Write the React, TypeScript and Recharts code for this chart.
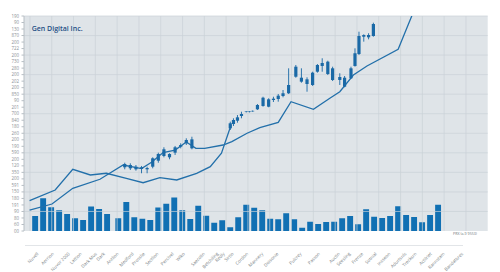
import React from 'react';
import { ComposedChart, Bar, Line, Scatter, ErrorBar, XAxis, YAxis, CartesianGrid, ReferenceLine } from 'recharts';

const W = 500;
const H = 272;
const T_MAX = 580;

// y-axis tick labels, bottom to top
const Y_LABELS = ['00', '60', '80', '90', '191', '180', '150', '591', '200', '350', '120', '200', '590', '190', '200', '260', '180', '840', '700', '201', '90', '850', '200', '202', '200', '280', '730', '200', '722', '200', '870', '130', '90', '190'];
const Y_TICKS = [0, 10, 20, 30, 40, 50, 60, 70, 80, 90, 100, 110, 120, 130, 140, 150, 160, 170, 180, 190, 200, 210, 220, 230, 240, 250, 260, 270, 280, 290, 300, 310, 320, 330];
const GRID_Y = [30, 60, 90, 120, 150, 180, 210, 240, 270, 300, 330];

// x-axis labels and their positions
const X_LABELS = ['Nuvell', 'Aerrion', 'Nuvor 2000', 'Lattion', 'Dark Mus', 'Dark', 'Antlion', 'Medford', 'Prosslie', 'Sectlion', 'Percivel', 'Wiko', 'Saecolin', 'Betchiling', 'Redly', 'Sirtio', 'Cordon', 'Mannery', 'Doisonie', 'Pulcrey', 'Passon', 'Auctin', 'Seesling', 'Frenze', 'Sotnial', 'Insseon', 'Adurtsnls', 'Trecksrn', 'Actilriet', 'Rannstam', 'Bandatbres'];
const LABEL_T = [16, 35, 55, 70, 89, 99, 116, 135, 149, 166, 185, 199, 224, 241, 249, 260, 278, 297, 316, 345, 368, 393, 406, 422, 439, 456, 476, 489, 508, 524, 547];
const GRID_X = [7.4, 34.7, 61.9, 89.2, 116.5, 143.8, 171, 198.3, 225.6, 252.8, 280.1, 307.4, 334.6, 361.9, 389.2, 416.5, 443.7, 471, 498.3, 525.5, 552.8];
const TICK_X = [7.4, 61.9, 116.5, 171, 225.6, 280.1, 334.6, 389.2, 443.7, 498.3, 552.8];

// volume bars
const VOL_T = [14, 24, 34, 44, 54, 64, 74, 84, 94, 104, 118, 128, 138, 148, 158, 168, 178, 188, 198, 208, 218, 228, 238, 248, 258, 268, 278, 288, 298, 308, 318, 328, 338, 348, 358, 368, 378, 388, 398, 408, 418, 428, 438, 448, 458, 468, 478, 488, 498, 508, 518];
const VOLUME = [150, 327, 237, 207, 170, 127, 110, 245, 220, 170, 128, 290, 137, 123, 110, 235, 273, 335, 207, 120, 252, 153, 83, 108, 37, 137, 263, 233, 207, 123, 117, 177, 117, 33, 93, 70, 90, 93, 127, 150, 67, 217, 143, 130, 150, 247, 160, 140, 87, 160, 263];

// candles
const CANDLE_T = [126, 133, 140, 147, 154, 161, 168, 175, 182, 189, 196, 203, 210, 258, 262, 267, 272, 278, 282, 286, 292, 299, 306, 312, 318, 324, 331, 340, 347, 354, 361, 367, 373, 380, 386, 395, 401, 409, 414, 419, 425, 431, 437];
const C_HIGH = [104.8, 103.9, 101.3, 99.8, 98.7, 113.1, 120.2, 128.5, 119.3, 130.5, 134.6, 142.3, 144.7, 167.8, 173.0, 178.0, 183.1, 184.0, 184.0, 185.0, 194.9, 206.1, 203.7, 206.1, 210.3, 216.4, 249.7, 254.8, 249.7, 235.9, 244.5, 256.3, 265.1, 261.4, 252.2, 242.1, 237.9, 252.2, 280.4, 305.9, 301.9, 303.5, 319.7];
const C_LOW = [94.7, 93.6, 92.6, 88.6, 88.6, 96.2, 104.8, 113.1, 110.1, 116.7, 126.9, 132.0, 125.4, 155.0, 161.2, 166.2, 173.0, 182.0, 182.0, 183.0, 185.7, 190.8, 189.9, 198.0, 198.5, 205.2, 210.3, 235.3, 227.6, 213.8, 222.6, 243.0, 244.5, 239.4, 230.2, 224.1, 220.6, 233.3, 252.2, 270.1, 290.6, 294.2, 298.2];
const C_OPEN = [97.8, 96.2, 98.7, 95.2, 94.7, 98.7, 107.9, 115.1, 118.2, 120.2, 129.4, 134.6, 140.7, 157.6, 164.2, 169.3, 176.5, 182.6, 182.6, 183.6, 186.8, 191.9, 202.1, 201.1, 202.6, 207.2, 211.4, 236.8, 235.3, 232.8, 224.1, 244.5, 253.3, 259.9, 249.7, 236.4, 235.3, 234.4, 253.3, 271.7, 298.2, 300.8, 299.3];
const C_CLOSE = [102.8, 101.3, 94.7, 97.8, 96.7, 111.6, 118.2, 125.4, 113.1, 128.5, 132.0, 139.7, 126.9, 165.3, 170.4, 174.5, 179.6, 183.4, 183.4, 184.4, 193.4, 204.6, 190.8, 203.1, 207.7, 211.4, 224.1, 252.2, 229.2, 225.6, 243.0, 254.8, 257.9, 241.0, 231.8, 231.8, 221.5, 249.7, 272.8, 299.3, 300.8, 297.3, 317.7];

// lines
const LINE1_T = [7, 39, 61, 83, 103, 128, 149, 170, 191, 216, 233, 247, 259];
const LINE1_P = [46.5, 62.9, 94.7, 86.0, 88.6, 80.9, 74.1, 81.8, 78.3, 88.6, 98.7, 119.3, 162.7];
const LINE2_T = [7, 35, 61, 95, 124, 147, 160, 174, 189, 203, 215, 226, 249, 260, 279, 295, 318, 334, 362, 383, 395, 412, 429, 468, 485, 493];
const LINE2_P = [32.2, 41.4, 65.5, 79.4, 101.3, 95.9, 105.9, 120.5, 124.3, 136.6, 126.9, 126.9, 132.0, 137.1, 150.0, 158.6, 166.8, 198.5, 186.8, 204.1, 213.8, 239.4, 253.3, 278.9, 330, 354];

const BLUE_BAR = '#1170b3';
const BLUE_CANDLE = '#1a69a6';
const BLUE_LINE = '#2370aa';
const GRID = '#cad1d7';

const EmptyShape = () => <g />;

const LabelTick = (props: any) => {
  const { x, y, payload } = props;
  const text = X_LABELS[LABEL_T.indexOf(payload.value)] ?? '';
  const yy = y + 7;
  return (
    <text x={x} y={yy} transform={`rotate(-45, ${x}, ${yy})`} textAnchor="end" dy={3} fontSize={4.5} fill="#7a7f85">
      {text}
    </text>
  );
};

export default function App() {
  const volData = VOL_T.map((t, i) => ({ t, v: VOLUME[i] }));
  const candles = CANDLE_T.map((t, i) => {
    const o = C_OPEN[i];
    const c = C_CLOSE[i];
    const mid = (o + c) / 2;
    return {
      t,
      mid,
      bodyErr: Math.max(Math.abs(o - c) / 2, 0.4),
      wickErr: [mid - C_LOW[i], C_HIGH[i] - mid],
    };
  });
  const line1 = LINE1_T.map((t, i) => ({ t, p: LINE1_P[i] }));
  const line2 = LINE2_T.map((t, i) => ({ t, p: LINE2_P[i] }));

  return (
    <div style={{ position: 'absolute', left: 0, top: 0, width: W, height: H, background: '#ffffff', fontFamily: '"Open Sans", "Liberation Sans", sans-serif' }}>
      <ComposedChart width={W} height={H} data={volData} margin={{ top: 16, right: 12.3, bottom: 0, left: 0 }}>
        <CartesianGrid xAxisId="c" yAxisId="p" fill="#dfe4e8" horizontal={false} vertical={false} />
        <XAxis
          xAxisId="c"
          dataKey="t"
          type="number"
          domain={[0, T_MAX]}
          allowDataOverflow
          ticks={TICK_X}
          interval={0}
          height={0}
          tickFormatter={() => ''}
          tickSize={3}
          tickLine={{ stroke: '#b9c0c6' }}
          axisLine={{ stroke: '#c2c9cf' }}
        />
        <XAxis
          xAxisId="v"
          dataKey="t"
          type="number"
          domain={[0, T_MAX]}
          allowDataOverflow
          ticks={LABEL_T}
          interval={0}
          height={41}
          tick={<LabelTick />}
          tickLine={false}
          tickSize={0}
          tickMargin={14}
          axisLine={false}
        />
        <YAxis
          yAxisId="p"
          type="number"
          domain={[0, 330]}
          ticks={Y_TICKS}
          interval={0}
          allowDataOverflow
          width={24}
          tickFormatter={(v: number) => Y_LABELS[Math.round(v / 10)] ?? ''}
          tick={{ fontSize: 4.4, fill: '#8b9096' }}
          tickSize={2.5}
          tickMargin={2.5}
          axisLine={{ stroke: '#b7bec4' }}
          tickLine={{ stroke: '#b7bec4' }}
        />
        <YAxis yAxisId="vol" type="number" domain={[0, 2150]} allowDataOverflow hide />
        {GRID_X.map((t) => (
          <ReferenceLine key={`gx${t}`} xAxisId="c" yAxisId="p" x={t} stroke={GRID} strokeWidth={0.7} />
        ))}
        {GRID_Y.map((p) => (
          <ReferenceLine key={`gy${p}`} xAxisId="c" yAxisId="p" y={p} stroke={GRID} strokeWidth={0.7} />
        ))}
        <Bar xAxisId="v" yAxisId="vol" dataKey="v" fill={BLUE_BAR} barSize={5.9} isAnimationActive={false} />
        <Line data={line1} xAxisId="c" yAxisId="p" dataKey="p" type="linear" stroke={BLUE_LINE} strokeWidth={1.3} dot={false} isAnimationActive={false} />
        <Line data={line2} xAxisId="c" yAxisId="p" dataKey="p" type="linear" stroke={BLUE_LINE} strokeWidth={1.3} dot={false} isAnimationActive={false} />
        <Scatter data={candles} xAxisId="c" yAxisId="p" dataKey="mid" shape={EmptyShape} isAnimationActive={false}>
          <ErrorBar dataKey="wickErr" direction="y" width={0} stroke={BLUE_CANDLE} strokeWidth={0.9} isAnimationActive={false} />
          <ErrorBar dataKey="bodyErr" direction="y" width={0} stroke={BLUE_CANDLE} strokeWidth={3.2} isAnimationActive={false} />
        </Scatter>
      </ComposedChart>
      <div style={{ position: 'absolute', left: 25, top: 244.5, width: 438, height: 0.7, background: '#e2e5e8' }} />
      <div style={{ position: 'absolute', left: 31.7, top: 25.3, fontSize: 7, lineHeight: '7px', fontWeight: 600, color: '#1f4f86', whiteSpace: 'nowrap' }}>
        Gen Digital Inc.
      </div>
      <div style={{ position: 'absolute', left: 453, top: 232, fontSize: 3.6, lineHeight: '4px', color: '#6f757b', whiteSpace: 'nowrap' }}>
        PRX (a-9 9553)
      </div>
    </div>
  );
}
